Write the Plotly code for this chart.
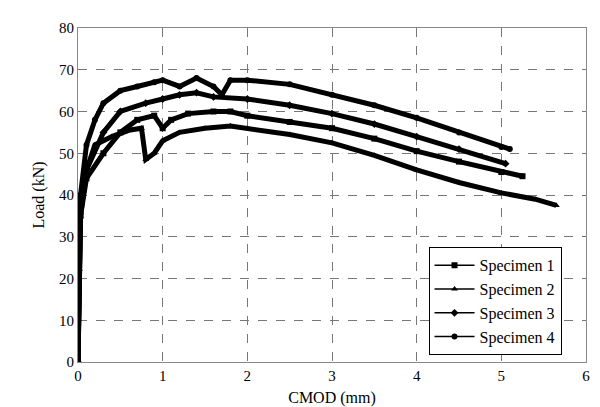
import plotly.graph_objects as go

names = ["Specimen 1", "Specimen 2", "Specimen 3", "Specimen 4"]
symbols = ["square", "triangle-up", "diamond", "circle"]

x1 = [0, 0.01, 0.03, 0.1, 0.3, 0.5, 0.7, 0.9, 1.0, 1.1, 1.3, 1.6, 1.8, 2.0, 2.5, 3.0, 3.5, 4.0, 4.5, 5.0, 5.25]
y1 = [0, 20, 35, 44, 50, 55, 58, 59, 56, 58, 59.5, 60, 60, 59, 57.5, 56, 53.5, 50.5, 48, 45.5, 44.5]

x2 = [0, 0.01, 0.03, 0.1, 0.2, 0.4, 0.6, 0.75, 0.8, 0.9, 1.0, 1.2, 1.5, 1.8, 2.0, 2.5, 3.0, 3.5, 4.0, 4.5, 5.0, 5.4, 5.65]
y2 = [0, 20, 35, 46, 52, 54, 55.5, 56, 48.5, 50, 53, 55, 56, 56.5, 56, 54.5, 52.5, 49.5, 46, 43, 40.5, 39, 37.5]

x3 = [0, 0.01, 0.03, 0.1, 0.3, 0.5, 0.8, 1.0, 1.2, 1.4, 1.6, 2.0, 2.5, 3.0, 3.5, 4.0, 4.5, 5.05]
y3 = [0, 22, 38, 46, 55, 60, 62, 63, 64, 64.5, 63.5, 63, 61.5, 59.5, 57, 54, 51, 47.5]

x4 = [0, 0.01, 0.03, 0.1, 0.2, 0.3, 0.5, 0.7, 0.9, 1.0, 1.2, 1.4, 1.6, 1.7, 1.8, 2.0, 2.5, 3.0, 3.5, 4.0, 4.5, 5.0, 5.1]
y4 = [0, 22, 40, 52, 58, 62, 65, 66, 67, 67.5, 66, 68, 66, 64, 67.5, 67.5, 66.5, 64, 61.5, 58.5, 55, 51.5, 51]

fig = go.Figure()
for n, s, x, y in zip(names, symbols, [x1, x2, x3, x4], [y1, y2, y3, y4]):
    fig.add_trace(go.Scatter(x=x, y=y, name=n, mode="lines+markers", showlegend=False,
                             line=dict(color="black", width=5),
                             marker=dict(symbol=s, size=6, color="black")))
for n, s in zip(names, symbols):
    fig.add_trace(go.Scatter(x=[None], y=[None], name=n, mode="lines+markers",
                             line=dict(color="black", width=1.5),
                             marker=dict(symbol=s, size=6, color="black")))

FONT = "serif"
grid = dict(showgrid=True, gridcolor="#777", griddash="dash", gridwidth=1,
            showline=True, linecolor="#888", mirror=True, ticks="",
            zeroline=False, tickfont=dict(size=15, color="black", family=FONT))
fig.update_layout(
    width=600, height=407, margin=dict(l=70, r=22, t=14, b=53),
    paper_bgcolor="white", plot_bgcolor="white",
    font=dict(family=FONT, color="black"),
    xaxis=dict(range=[0, 6], dtick=1, title=dict(text="CMOD (mm)", font=dict(size=16, family=FONT), standoff=8), **grid),
    yaxis=dict(range=[0, 80], dtick=10, title=dict(text="Load (kN)", font=dict(size=16, family=FONT), standoff=10), **grid),
    legend=dict(x=0.69, y=0.02, xanchor="left", yanchor="bottom", bgcolor="white",
                bordercolor="black", borderwidth=1, font=dict(size=16, family=FONT), itemwidth=40,
                tracegroupgap=2),
    showlegend=True,
)
fig.write_html("out.html")
